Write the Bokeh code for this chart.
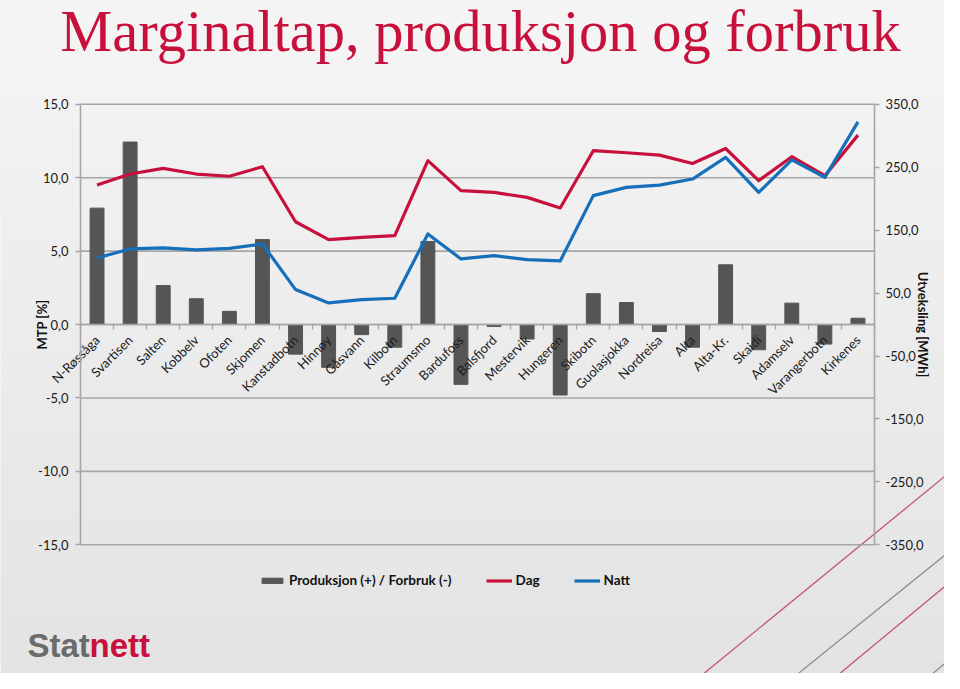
import numpy as np
from bokeh.plotting import figure
from bokeh.models import (Range1d, LinearAxis, FixedTicker, Label, Legend, LegendItem)
from bokeh.embed import file_html
from bokeh.resources import INLINE

# ---------------- data ----------------
stations = ["N-Røssåga", "Svartisen", "Salten", "Kobbelv", "Ofoten", "Skjomen",
            "Kanstadbotn", "Hinnøy", "Gåsvann", "Kilbotn", "Straumsmo", "Bardufoss",
            "Balsfjord", "Mestervik", "Hungeren", "Skibotn", "Guolasjokka", "Nordreisa",
            "Alta", "Alta-Kr.", "Skaidi", "Adamselv", "Varangerbotn", "Kirkenes"]
utveksling = [185, 290, 62, 41, 21, 135, -47, -68, -16, -36, 132, -95,
              -3, -23, -112, 49, 35, -11, -36, 95, -40, 34, -31, 10]
dag = [9.5, 10.25, 10.64, 10.25, 10.1, 10.75, 7.0, 5.78, 5.94, 6.05, 11.16, 9.12,
       9.0, 8.66, 7.94, 11.84, 11.7, 11.54, 10.97, 11.99, 9.8, 11.43, 10.14, 12.9]
natt = [4.54, 5.15, 5.22, 5.08, 5.19, 5.49, 2.38, 1.47, 1.7, 1.79, 6.17, 4.47,
        4.69, 4.42, 4.33, 8.78, 9.34, 9.5, 9.91, 11.38, 9.0, 11.22, 10.02, 13.8]
mtp_ticks = [-15, -10, -5, 0, 5, 10, 15]
mwh_ticks = [-350, -250, -150, -50, 50, 150, 250, 350]

title_text = "Marginaltap, produksjon og forbruk"
legend_labels = ["Produksjon (+) / Forbruk (-)", "Dag", "Natt"]
logo_parts = ["Stat", "nett"]

# ---------------- layout & styles ----------------
W, H = 944, 673
PL, PR, PT, PB = 80.0, 874.0, 103.8, 544.3     # plot-area edges in page pixels
RED = "#C8103C"
BLUE = "#166FBA"
BAR = "#555555"
GRID = "#A6A6A6"
FONT = "Lato"
TXT = "#1a1a1a"

n = len(stations)
xs = [i + 0.5 for i in range(n)]
bounds = [float(i) for i in range(n + 1)]


def fmt(t):
    return f"{t:.1f}".replace(".", ",")


# ranges chosen so the plot area lands at PL..PR / PT..PB on a full-canvas frame
sx = (PR - PL) / n
x_range = Range1d(-PL / sx, n + (W - PR) / sx)
sy = (PB - PT) / (mtp_ticks[-1] - mtp_ticks[0])
y_range = Range1d(mtp_ticks[0] - (H - PB) / sy, mtp_ticks[-1] + PT / sy)
sm = (PB - PT) / (mwh_ticks[-1] - mwh_ticks[0])
mwh_range = Range1d(mwh_ticks[0] - (H - PB) / sm, mwh_ticks[-1] + PT / sm)

p = figure(width=W, height=H, output_backend="svg", toolbar_location=None,
           x_range=x_range, y_range=y_range,
           x_axis_location=None, y_axis_location=None, min_border=0)
p.extra_y_ranges = {"mwh": mwh_range, "py": Range1d(H, 0)}
p.extra_x_ranges = {"px": Range1d(0, W)}
p.grid.visible = False
p.outline_line_color = None
p.background_fill_color = "#EDEDED"
p.border_fill_color = "#EDEDED"

# soft vertical page gradient (page pixel space)
nb = 48
edges = np.linspace(0, H, nb + 1)
c0, c1 = np.array([245, 245, 245]), np.array([227, 227, 227])
cols = ["#%02x%02x%02x" % tuple(int(round(v)) for v in c0 + (c1 - c0) * (i + 0.5) / nb)
        for i in range(nb)]
p.quad(left=0, right=W, top=edges[:-1], bottom=edges[1:] + 0.6,
       fill_color=cols, line_color=None, x_range_name="px", y_range_name="py")

# decorative diagonal lines, lower right (page pixel space)
deco = [((960, 463), (685, 688), "#C35673"),
        ((960, 542), (778, 689), "#8E8E8E"),
        ((960, 573), (820, 689), "#C35673"),
        ((960, 650), (913, 689), "#8E8E8E")]
p.segment(x0=[d[0][0] for d in deco], y0=[d[0][1] for d in deco],
          x1=[d[1][0] for d in deco], y1=[d[1][1] for d in deco],
          line_color=[d[2] for d in deco], line_width=1.3,
          x_range_name="px", y_range_name="py")

# horizontal gridlines across the plot area
p.segment(x0=[0] * len(mtp_ticks), x1=[n] * len(mtp_ticks), y0=mtp_ticks, y1=mtp_ticks,
          line_color=GRID, line_width=1.6)

# axes
left = LinearAxis(ticker=FixedTicker(ticks=mtp_ticks), fixed_location=0,
                  bounds=(mtp_ticks[0], mtp_ticks[-1]),
                  major_label_overrides={t: fmt(t) for t in mtp_ticks},
                  axis_label="MTP [%]")
right = LinearAxis(y_range_name="mwh", ticker=FixedTicker(ticks=mwh_ticks),
                   fixed_location=n, bounds=(mwh_ticks[0], mwh_ticks[-1]),
                   major_label_overrides={t: fmt(t) for t in mwh_ticks},
                   axis_label="Utveksling [MWh]")
for ax in (left, right):
    ax.axis_line_color = GRID
    ax.axis_line_width = 1.6
    ax.major_tick_line_color = GRID
    ax.major_tick_line_width = 1.3
    ax.major_tick_out = 5
    ax.major_tick_in = 0
    ax.minor_tick_line_color = None
    ax.major_label_text_font = FONT
    ax.major_label_text_font_size = "13px"
    ax.major_label_text_color = TXT
    ax.axis_label_text_font = FONT
    ax.axis_label_text_font_size = "13px"
    ax.axis_label_text_font_style = "bold"
    ax.axis_label_text_color = "#111111"
left.major_label_standoff = 7
right.major_label_standoff = 6
left.axis_label_standoff = -15
right.axis_label_standoff = -11
p.add_layout(left, "left")
p.add_layout(right, "right")

# category axis running along the zero line
xaxis = LinearAxis(ticker=FixedTicker(ticks=xs, minor_ticks=bounds),
                   fixed_location=0, bounds=(0, n),
                   major_label_overrides={x: s for x, s in zip(xs, stations)},
                   major_label_orientation=np.pi / 4)
xaxis.axis_line_color = GRID
xaxis.axis_line_width = 1.6
xaxis.major_tick_line_color = None
xaxis.major_tick_out = 0
xaxis.major_tick_in = 0
xaxis.minor_tick_line_color = GRID
xaxis.minor_tick_line_width = 1.3
xaxis.minor_tick_out = 5
xaxis.minor_tick_in = 0
xaxis.major_label_standoff = 8
xaxis.major_label_text_font = FONT
xaxis.major_label_text_font_size = "13px"
xaxis.major_label_text_color = TXT
p.add_layout(xaxis, "below")

# bars (right axis) and lines (left axis)
bars = p.vbar(x=xs, top=utveksling, width=0.42, y_range_name="mwh",
              fill_color=BAR, line_color=BAR)
l_dag = p.line(xs, dag, line_color=RED, line_width=3.2, line_join="round")
l_natt = p.line(xs, natt, line_color=BLUE, line_width=3.2, line_join="round")

# legend below the plot area
legend = Legend(items=[LegendItem(label=legend_labels[0], renderers=[bars]),
                       LegendItem(label=legend_labels[1], renderers=[l_dag]),
                       LegendItem(label=legend_labels[2], renderers=[l_natt])],
                location=(259, 85), orientation="horizontal",
                background_fill_alpha=0, border_line_color=None,
                padding=0, margin=0, spacing=34, label_standoff=4,
                glyph_width=26, glyph_height=7,
                label_text_font=FONT, label_text_font_size="13.5px",
                label_text_font_style="bold", label_text_color="#111111")
p.add_layout(legend, "center")

# title
p.add_layout(Label(x=480, y=31, x_range_name="px", y_range_name="py",
                   text=title_text, text_align="center", text_baseline="alphabetic",
                   text_font="Liberation Serif", text_font_size="58.5px",
                   text_color=RED))

# logo
p.add_layout(Label(x=27, y=645, x_range_name="px", y_range_name="py",
                   text=logo_parts[0], text_baseline="alphabetic",
                   text_font="Liberation Sans", text_font_style="bold",
                   text_font_size="33px", text_color="#6B6B6B"))
p.add_layout(Label(x=89, y=645, x_range_name="px", y_range_name="py",
                   text=logo_parts[1], text_baseline="alphabetic",
                   text_font="Liberation Sans", text_font_style="bold",
                   text_font_size="33px", text_color=RED))

open("out.html", "w").write(file_html(p, INLINE))
